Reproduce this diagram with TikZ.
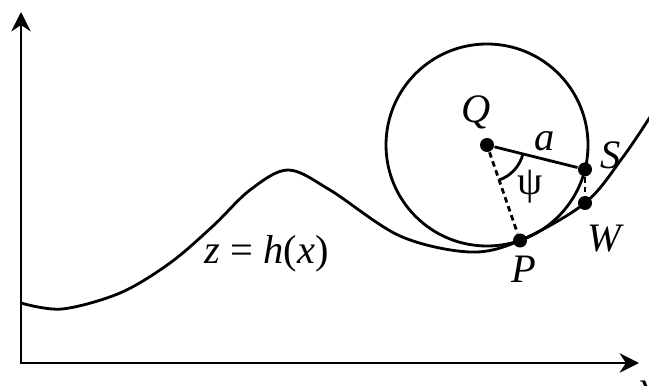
\documentclass[tikz,border=0pt]{standalone}
\usepackage{fontspec}
\setmainfont{Liberation Serif}
\usetikzlibrary{arrows.meta,positioning,angles}
\tikzset{
dot/.style={circle,fill,inner sep=0pt,minimum size=.14cm},
lbl/.style={inner sep=0pt,font=\fontsize{11.5}{13}\selectfont},
axis/.style={{Stealth[length=5.5pt,width=5.5pt]}-{Stealth[length=5.5pt,width=5.5pt]},line width=.8pt},
curve/.style={line width=.8pt},
arm/.style={line width=.8pt},
guide/.style={line width=.8pt,dash pattern=on 1.6pt off 1.1pt}
}
\begin{document}
\begin{tikzpicture}[x=.01cm,y=.01cm]
\useasboundingbox (0,0) rectangle (649,-385);
% axes
\draw[axis] (21,-12) -- (21,-363) -- (639,-363);
\node[lbl,anchor=north west] (xlabel) at (638,-380) {\textit{x}};
% points
\node[dot] (Q) at (487,-145) {};
\node[dot] (P) at (520,-240.5) {};
\node[dot] (S) at (585,-169.4) {};
\node[dot] (W) at (585,-203) {};
% wheel and ground
\draw[curve] (Q.center) circle[radius=101];
\draw[curve] plot[smooth,tension=.55] coordinates {(21,-303) (62,-309) (120,-293) (170,-263) (213,-226) (250,-190) (288,-170) (330,-190) (400,-236) (470,-252) (P.center) (W.center) (623,-157) (652,-114)};
\draw[arm] (Q) -- node[lbl,above=2pt,pos=.6]{\textit{a}} (S);
\draw[guide] (Q) -- (P);
\draw[guide] (S) -- (W);
\pic[draw,line width=.8pt,angle radius=.37cm] {angle=P--Q--S};
% labels
\node[lbl,above=2pt of Q,xshift=-3pt] (qlabel) {\textit{Q}};
\node[lbl,below=2pt of P,xshift=1pt] (plabel) {\textit{P}};
\node[lbl,right=2pt of S,yshift=4pt] (slabel) {\textit{S}};
\node[lbl,below=4pt of W,xshift=6pt] (wlabel) {\textit{W}};
\node[lbl] (psilabel) at (530,-187) {ψ};
\node[lbl,anchor=base west] (hlabel) at (204,-263) {\textit{z} = \textit{h}(\textit{x})};
\end{tikzpicture}
\end{document}
